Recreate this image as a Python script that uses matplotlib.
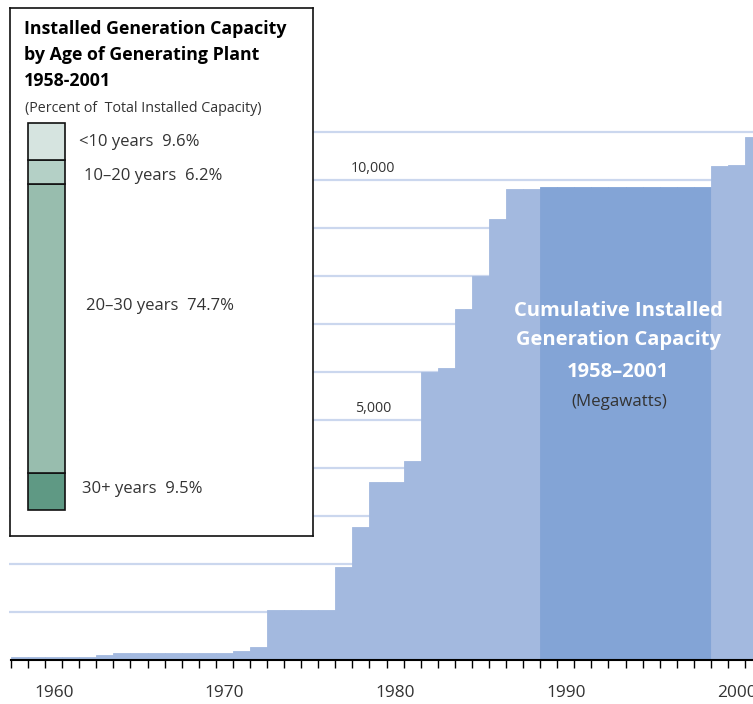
import matplotlib.pyplot as plt

plt.rcParams['font.family'] = ['Open Sans', 'DejaVu Sans']

# cumulative installed capacity (MW), one value per year
years = list(range(1958, 2002))
capacity_mw = [65, 65, 65, 65, 65, 105, 150, 150, 150, 150, 150, 150, 150, 195, 280,
               1040, 1040, 1040, 1040, 1945, 2780, 3715, 3715, 4145, 6005, 6090,
               7310, 7990, 9190, 9810, 9810,
               9860, 9860, 9860, 9860, 9860, 9860, 9860, 9860, 9860, 9860,
               10290, 10320, 10900]
highlight_years = (1989, 1998)
grid_values = list(range(1000, 12000, 1000))
labelled_grid = [5000, 10000]
decade_labels = [1960, 1970, 1980, 1990, 2000]

# age breakdown (percent of total), bottom to top of the stacked bar
age_groups = ['30+ years', '20\u201330 years', '10\u201320 years', '<10 years']
age_share = [9.5, 74.7, 6.2, 9.6]
age_colors = ['#5f9984', '#98bdae', '#b4d0c6', '#d6e4e0']

W, H = 753, 704
fig = plt.figure(figsize=(W / 100, H / 100), dpi=100)


def fx(x):
    return x / W


def fy(y):
    return 1 - y / H


light = '#a3b9df'
dark = '#83a4d6'
grid_c = '#cbd7ee'
text_c = '#333333'
x_end = 1958 + 742 / 17.07

# main step chart
ax = fig.add_axes([fx(11), fy(660), fx(742), 660 / H])
cols = [dark if highlight_years[0] <= y <= highlight_years[1] else light for y in years]
ax.bar(years, capacity_mw, width=1.0, align='edge', color=cols, edgecolor=cols,
       linewidth=0.6, zorder=2)
ax.hlines(grid_values, 1958 - 0.12, x_end, color=grid_c, lw=1.6,
          zorder=1, clip_on=False)
for v in labelled_grid:
    ax.text(1979.2, v + 250, f'{v:,}', ha='center', va='center', fontsize=10.3,
            color=text_c, zorder=3)

for s in ['top', 'right', 'left']:
    ax.spines[s].set_visible(False)
ax.spines['bottom'].set_linewidth(1.5)
ax.spines['bottom'].set_zorder(4)
ax.set_yticks([])
ax.set_xticks(range(1958, 2002), minor=True)
ax.tick_params(axis='x', which='minor', length=6, width=1.0, color='black')
ax.set_xticks([d + 0.5 for d in decade_labels])
ax.set_xticklabels([str(d) for d in decade_labels], fontsize=12.4, color=text_c)
ax.tick_params(axis='x', which='major', length=0, pad=18)
ax.set_xlim(1958, x_end)
ax.set_ylim(0, 13750)

# overlay title on the chart
fig.text(fx(618), fy(311), 'Cumulative Installed', ha='center', va='center',
         fontsize=14.5, fontweight='bold', color='white')
fig.text(fx(618), fy(340), 'Generation Capacity', ha='center', va='center',
         fontsize=14.5, fontweight='bold', color='white')
fig.text(fx(618), fy(372), '1958\u20132001', ha='center', va='center',
         fontsize=14.5, fontweight='bold', color='white')
fig.text(fx(619), fy(402), '(Megawatts)', ha='center', va='center',
         fontsize=12.2, color=text_c)

# inset box with stacked bar
lax = fig.add_axes([fx(10), fy(536), fx(303), 528 / H])
lax.set_facecolor('white')
lax.set_zorder(5)
lax.set_xlim(0, 303)
lax.set_ylim(-26 / 3.87, 100 + 115 / 3.87)
lax.set_xticks([])
lax.set_yticks([])
for s in lax.spines.values():
    s.set_linewidth(1.2)
    s.set_color('#111111')

bottom = 0
for name, share, c in zip(age_groups, age_share, age_colors):
    lax.bar(18, share, width=37, bottom=bottom, align='edge', color=c,
            edgecolor='#111111', linewidth=1.2)
    bottom += share

label_pos = {'30+ years': (72, 5.4), '20\u201330 years': (75.5, 52.6),
             '10\u201320 years': (74, 86.4), '<10 years': (69, 95.1)}
for name, share in zip(age_groups, age_share):
    x, y = label_pos[name]
    lax.text(x, y, f'{name}  {share}%', ha='left', va='center', fontsize=12,
             color=text_c)

fig.text(fx(24), fy(29), 'Installed Generation Capacity', ha='left', va='center',
         fontsize=12.8, fontweight='bold', color='black', zorder=6)
fig.text(fx(24), fy(55), 'by Age of Generating Plant', ha='left', va='center',
         fontsize=12.8, fontweight='bold', color='black', zorder=6)
fig.text(fx(24), fy(81), '1958-2001', ha='left', va='center',
         fontsize=12.8, fontweight='bold', color='black', zorder=6)
fig.text(fx(25), fy(109), '(Percent of  Total Installed Capacity)', ha='left',
         va='center', fontsize=10.3, color=text_c, zorder=6)

fig.savefig('out.png', dpi=100)
